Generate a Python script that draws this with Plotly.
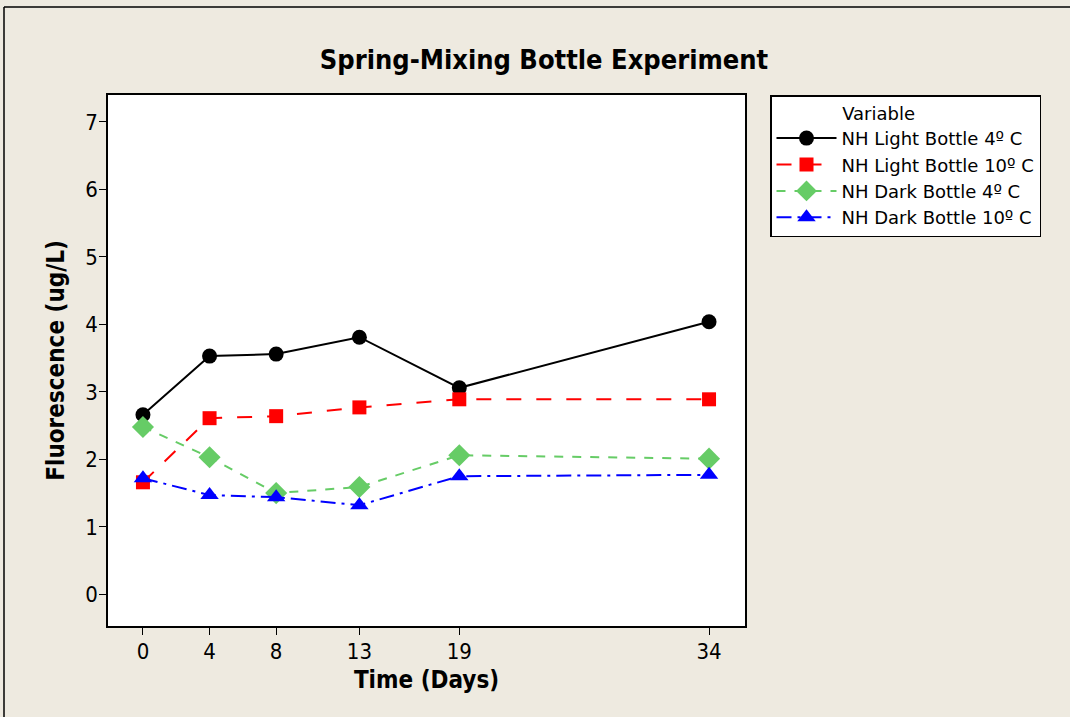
import plotly.graph_objects as go

days = [0, 4, 8, 13, 19, 34]
light_4 = [2.66, 3.53, 3.56, 3.81, 3.06, 4.04]
light_10 = [1.66, 2.61, 2.64, 2.77, 2.89, 2.89]
dark_4 = [2.48, 2.03, 1.50, 1.59, 2.06, 2.01]
dark_10 = [1.72, 1.47, 1.44, 1.32, 1.75, 1.77]
y_ticks = [0, 1, 2, 3, 4, 5, 6, 7]

FONT = "DejaVu Sans Condensed, Liberation Sans Narrow, sans-serif"
LFONT = "DejaVu Sans, Verdana, sans-serif"

series = [
    ("NH Light Bottle 4º C", light_4, "black", "solid", "circle", 15),
    ("NH Light Bottle 10º C", light_10, "#FF0000", "longdash", "square", 14),
    ("NH Dark Bottle 4º C", dark_4, "#66CC66", "dash", "diamond", 17),
    ("NH Dark Bottle 10º C", dark_10, "#0000FF", "longdashdot", "triangle-up", 16),
]

fig = go.Figure()
for name, vals, color, dash, sym, size in series:
    fig.add_trace(go.Scatter(
        x=days, y=vals, name=name, mode="lines+markers",
        line=dict(color=color, width=2, dash=dash),
        marker=dict(color=color, symbol=sym, size=size),
    ))

fig.update_layout(
    width=1070, height=717,
    margin=dict(l=108, r=325, t=95, b=91),
    paper_bgcolor="#EEEAE0",
    plot_bgcolor="white",
    font=dict(family=FONT, color="black", size=18),
    title=dict(text="<b>Spring-Mixing Bottle Experiment</b>", x=544 / 1070,
               xanchor="center", y=1 - 60 / 717, yanchor="middle",
               font=dict(size=27, family=FONT)),
    xaxis=dict(range=[-2.1, 36.16], tickvals=days, ticktext=[str(d) for d in days],
               ticks="outside", ticklen=7, tickcolor="black", showgrid=False, zeroline=False,
               showline=True, linecolor="black", linewidth=1.5, mirror=True,
               tickfont=dict(size=22), ticklabelstandoff=-2,
               title=dict(text="<b>Time (Days)</b>", font=dict(size=24), standoff=8)),
    yaxis=dict(range=[-0.47, 7.40], tickvals=y_ticks,
               ticks="outside", ticklen=7, tickcolor="black", showgrid=False, zeroline=False,
               showline=True, linecolor="black", linewidth=1.5, mirror=True,
               tickfont=dict(size=22), ticklabelstandoff=-3,
               title=dict(text="<b>Fluorescence (ug/L)</b>", font=dict(size=24), standoff=14)),
    legend=dict(x=(770 - 108) / 637, y=1.0, xanchor="left", yanchor="top",
                bgcolor="white", bordercolor="black", borderwidth=1.5,
                font=dict(size=18, family=LFONT),
                title=dict(text="            Variable", font=dict(size=18, family=LFONT)),
                tracegroupgap=1, itemwidth=60),
    showlegend=True,
)

# outer frame lines (top and left)
fig.add_shape(type="line", xref="paper", yref="paper",
              x0=(4 - 108) / 637, x1=(1070 - 108) / 637,
              y0=(626 - 7) / 531, y1=(626 - 7) / 531,
              line=dict(color="black", width=1.5))
fig.add_shape(type="line", xref="paper", yref="paper",
              x0=(4 - 108) / 637, x1=(4 - 108) / 637,
              y0=(626 - 7) / 531, y1=(626 - 717) / 531,
              line=dict(color="black", width=1.5))

fig.write_html("out.html")
